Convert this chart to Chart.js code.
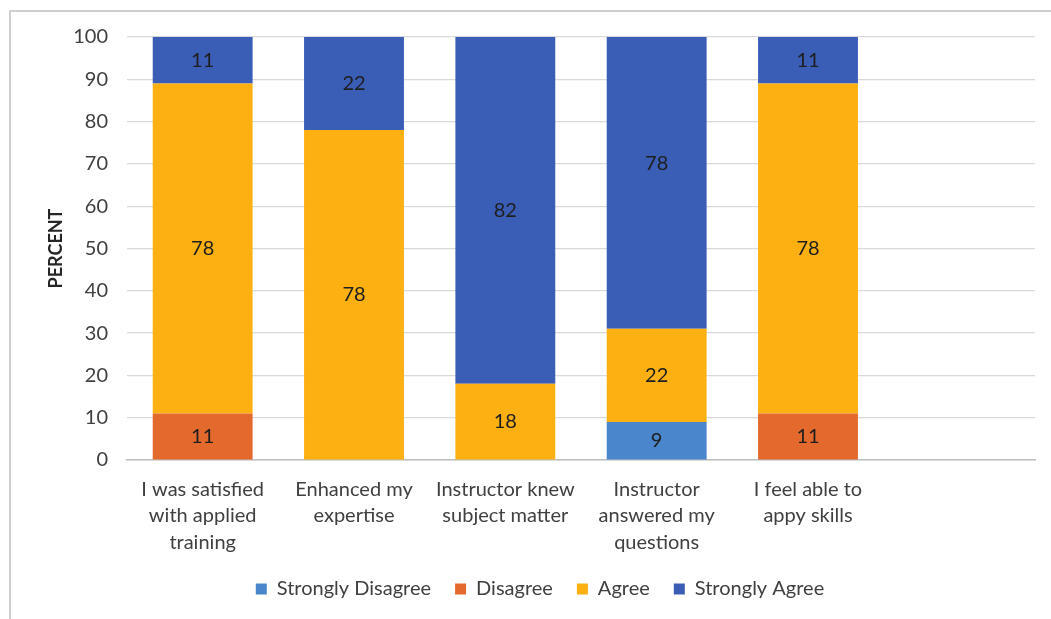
<!DOCTYPE html>
<html>
<head>
<meta charset="utf-8">
<script src="https://cdn.jsdelivr.net/npm/chart.js@4.4.0/dist/chart.umd.min.js"></script>
<style>
  html, body { margin: 0; padding: 0; background: #fff; overflow: hidden; }
  #wrap { position: relative; width: 1051px; height: 619px; }
  #frame { position: absolute; left: 9px; top: 10px; width: 1100px; height: 700px; border: 2px solid #cfcfcf; box-sizing: border-box; }
  canvas { position: absolute; left: 0; top: 0; }
</style>
</head>
<body>
<div id="wrap">
  <div id="frame"></div>
  <canvas id="c" width="1051" height="619"></canvas>
</div>
<script>
const categories = [
  ['I was satisfied', 'with applied', 'training'],
  ['Enhanced my', 'expertise'],
  ['Instructor knew', 'subject matter'],
  ['Instructor', 'answered my', 'questions'],
  ['I feel able to', 'appy skills'],
  ''
];
const seriesNames = ['Strongly Disagree', 'Disagree', 'Agree', 'Strongly Agree'];
const stronglyDisagree = [0, 0, 0, 9, 0, null];
const disagree = [11, 0, 0, 0, 11, null];
const agree = [78, 78, 18, 22, 78, null];
const stronglyAgree = [11, 22, 82, 78, 11, null];
const yTicks = [0, 10, 20, 30, 40, 50, 60, 70, 80, 90, 100];
const yTitle = 'PERCENT';

const colors = ['#4A86CB', '#E3692D', '#FDB012', '#3A5DB6'];
const FONT = 'Lato, "Open Sans", sans-serif';

const labelPlugin = {
  id: 'barLabels',
  afterDatasetsDraw(chart) {
    const ctx = chart.ctx;
    ctx.save();
    ctx.font = '20px ' + FONT;
    ctx.fillStyle = '#1e1e1e';
    ctx.textAlign = 'center';
    ctx.textBaseline = 'middle';
    chart.data.datasets.forEach((ds, di) => {
      const meta = chart.getDatasetMeta(di);
      meta.data.forEach((el, i) => {
        const v = ds.data[i];
        if (!v) return;
        const p = el.getCenterPoint();
        ctx.fillText(String(v), p.x, p.y);
      });
    });
    ctx.restore();
  }
};

const datasets = [stronglyDisagree, disagree, agree, stronglyAgree].map((d, i) => ({
  label: seriesNames[i],
  data: d,
  backgroundColor: colors[i],
  borderWidth: 0,
  clip: 0,
  barPercentage: 0.66,
  categoryPercentage: 1.0
}));

new Chart(document.getElementById('c'), {
  type: 'bar',
  data: { labels: categories, datasets },
  options: {
    responsive: false,
    animation: false,
    devicePixelRatio: 1,
    layout: { padding: { left: 45, right: 16, top: 37, bottom: 10 } },
    plugins: {
      tooltip: { enabled: false },
      legend: {
        position: 'bottom',
        labels: {
          boxWidth: 11, boxHeight: 11,
          color: '#404040',
          padding: 24,
          font: { family: FONT, size: 20 }
        }
      }
    },
    scales: {
      x: {
        stacked: true,
        afterFit(scale) { scale.height = 95; },
        grid: { display: false, drawTicks: false },
        border: { display: true, color: '#bfbfbf', width: 1.5 },
        ticks: {
          color: '#404040',
          padding: 16,
          maxRotation: 0, autoSkip: false,
          font: { family: FONT, size: 20, lineHeight: 1.33 }
        }
      },
      y: {
        stacked: true,
        min: 0, max: 100,
        afterBuildTicks(scale) { scale.ticks = yTicks.map(v => ({ value: v })); },
        afterFit(scale) { scale.width = 82; },
        grid: { color: '#d9d9d9', lineWidth: 1.2, drawTicks: false },
        border: { display: false },
        ticks: {
          color: '#404040',
          padding: 19,
          font: { family: FONT, size: 20 }
        },
        title: {
          display: true,
          text: yTitle,
          color: '#262626',
          padding: { top: 0, bottom: 0 },
          font: { family: FONT, size: 18, weight: 'bold' }
        }
      }
    }
  },
  plugins: [labelPlugin]
});
</script>
</body>
</html>
